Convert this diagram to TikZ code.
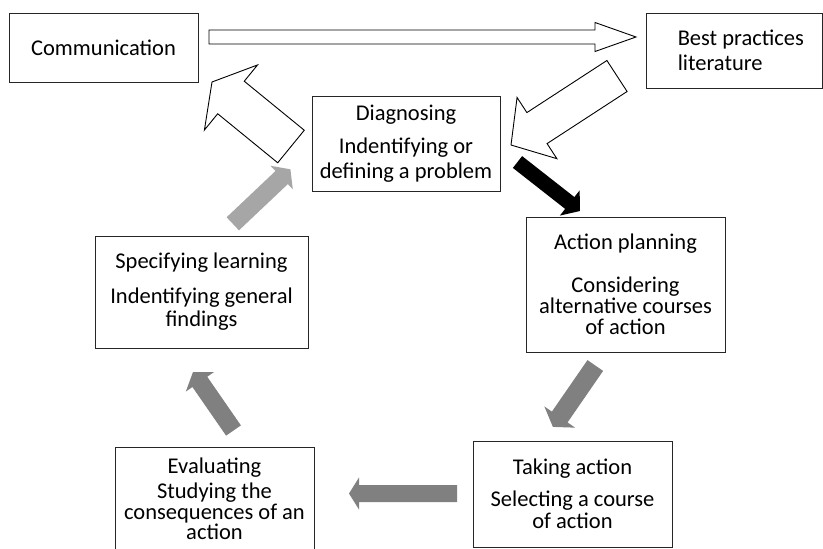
\documentclass[tikz,border=0pt]{standalone}
\usepackage{fontspec}
\setmainfont{Carlito}
\usetikzlibrary{calc}
\newcommand\blockarrow[6]{%
  \path ($(#3)!#6!(#2)$) coordinate (ba-base);
  \draw[#1] ($(#2)!#4!90:(#3)$) -- ($(ba-base)!#4!90:(#3)$) -- ($(ba-base)!#5!90:(#3)$) -- (#3)
    -- ($(ba-base)!#5!-90:(#3)$) -- ($(ba-base)!#4!-90:(#3)$) -- ($(#2)!#4!-90:(#3)$) -- cycle;
}
\begin{document}
\begin{tikzpicture}[x=1pt,y=-1pt,
  box/.style={draw=black!85, line width=0.9pt, align=center, inner sep=0pt,
    font=\fontsize{22.5}{23}\selectfont},
  hollow/.style={draw=black, line width=0.9pt, fill=white, line join=miter},
  darkarrow/.style={draw=none, fill=black},
  greyarrow/.style={draw=none, fill=black!50},
  lightarrow/.style={draw=none, fill=black!35}]
\useasboundingbox (0,0) rectangle (823,549);
\clip (0,0) rectangle (823,549);
\fill[white] (0,0) rectangle (823,549);

% boxes
\node[box, minimum width=189pt, minimum height=69pt] (comm) at (103.5,47.5) {Communication};
\node[box, minimum width=176pt, minimum height=75pt] (best) at (734,50.5) {};
\node[anchor=west, align=left, inner sep=0pt, font=\fontsize{22.5}{25}\selectfont] (besttext)
  at ($(best.west)+(32,0)$) {Best practices\\literature};
\node[box, minimum width=188pt, minimum height=95pt, font=\fontsize{22.5}{25}\selectfont] (diag) at (406,143.5)
  {Diagnosing\\[8pt]Indentifying or\\defining a problem};
\node[box, minimum width=199pt, minimum height=135pt, font=\fontsize{22.5}{21}\selectfont] (plan) at (625.5,284.5)
  {Action planning\\[22pt]Considering\\alternative courses\\of action};
\node[box, minimum width=213pt, minimum height=112pt, font=\fontsize{22.5}{23}\selectfont] (learn) at (201.5,292)
  {Specifying learning\\[12pt]Indentifying general\\findings};
\node[box, minimum width=199pt, minimum height=106pt, font=\fontsize{22.5}{22}\selectfont] (take) at (572.5,494)
  {Taking action\\[10pt]Selecting a course\\of action};
\node[box, minimum width=199pt, minimum height=104pt, font=\fontsize{22.5}{20.5}\selectfont] (eval) at (214.5,499)
  {Evaluating\\[5pt]Studying the\\consequences of an\\action};

% arrow end points
\coordinate (a1s) at (209,37);    \coordinate (a1t) at (636,37);
\coordinate (a2s) at (617,76);    \coordinate (a2t) at (511,145);
\coordinate (a3s) at (291,146.5); \coordinate (a3t) at (212,82);
\coordinate (a4s) at (517.5,162); \coordinate (a4t) at (580,211);
\coordinate (a5s) at (595.3,365.5); \coordinate (a5t) at (552.9,426.9);
\coordinate (a6s) at (457,493.5); \coordinate (a6t) at (349,493.5);
\coordinate (a7s) at (233.5,430.5); \coordinate (a7t) at (193,372);
\coordinate (a8s) at (232.8,223.8); \coordinate (a8t) at (290.4,169.3);

\blockarrow{hollow}{a1s}{a1t}{7pt}{14.5pt}{41pt}
\blockarrow{hollow}{a2s}{a2t}{18.5pt}{36.5pt}{31pt}
\blockarrow{hollow}{a3s}{a3t}{21pt}{42pt}{24.5pt}
\blockarrow{darkarrow}{a4s}{a4t}{7.5pt}{16pt}{13pt}
\blockarrow{greyarrow}{a5s}{a5t}{9.5pt}{18.7pt}{12pt}
\blockarrow{greyarrow}{a6s}{a6t}{8.5pt}{16pt}{10pt}
\blockarrow{greyarrow}{a7s}{a7t}{9pt}{17pt}{12pt}
\blockarrow{lightarrow}{a8s}{a8t}{9pt}{16.2pt}{12pt}
\end{tikzpicture}
\end{document}
